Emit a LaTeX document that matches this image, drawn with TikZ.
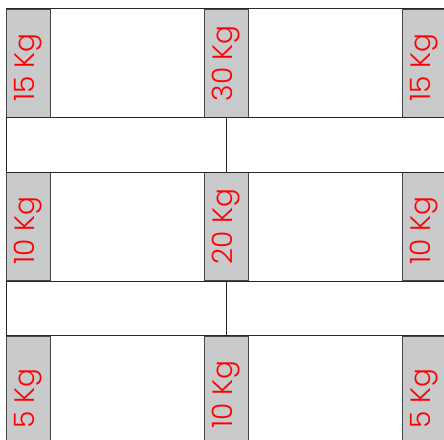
\documentclass[tikz,border=0pt]{standalone}
\usepackage{fontspec}
\usepackage{tikz}
\newfontfamily\kgfont{Poppins Light}
\usetikzlibrary{positioning}
\definecolor{boxgray}{RGB}{201,202,204}
\definecolor{edgegray}{RGB}{70,70,70}

\begin{document}
\begin{tikzpicture}[x=1pt,y=-1pt,
  crate/.style={draw=edgegray,fill=boxgray,line width=1pt,minimum width=44pt,minimum height=108pt,inner sep=0pt},
  weight/.style={rotate=90,anchor=west,inner sep=0pt,text=red,font=\kgfont\fontsize{28}{28}\selectfont}]
  \useasboundingbox (0,0) rectangle (444,439);
  \clip (0,0) rectangle (444,439);
  \node[crate] (b11) at (28.5,63) {}; \node[crate] (b12) at (226,63) {}; \node[crate] (b13) at (424,63) {};
  \node[crate] (b21) at (28.5,226.5) {}; \node[crate] (b22) at (226,226.5) {}; \node[crate] (b23) at (424,226.5) {};
  \node[crate] (b31) at (28.5,390) {}; \node[crate] (b32) at (226,390) {}; \node[crate] (b33) at (424,390) {};
  \begin{scope}[every path/.style={draw,black!85,line width=1pt}]
    \draw (b11.north west)--(b13.north east); \draw (b11.south west)--(b13.south east);
    \draw (b21.north west)--(b23.north east); \draw (b21.south west)--(b23.south east);
    \draw (b31.north west)--(b33.north east);
    \draw (b11.south west)--(b21.north west); \draw (b12.south)--(b22.north);
    \draw (b21.south west)--(b31.north west); \draw (b22.south)--(b32.north);
  \end{scope}
  \node[weight] (w11) at ([yshift=16pt]b11.south) {15 Kg};
  \node[weight] (w12) at ([yshift=16pt]b12.south) {30 Kg};
  \node[weight] (w13) at ([yshift=16pt]b13.south) {15 Kg};
  \node[weight] (w21) at ([yshift=16pt]b21.south) {10 Kg};
  \node[weight] (w22) at ([yshift=16pt]b22.south) {20 Kg};
  \node[weight] (w23) at ([yshift=16pt]b23.south) {10 Kg};
  \node[weight] (w31) at ([yshift=16pt]b31.south) {5 Kg};
  \node[weight] (w32) at ([yshift=16pt]b32.south) {10 Kg};
  \node[weight] (w33) at ([yshift=16pt]b33.south) {5 Kg};
\end{tikzpicture}
\end{document}
